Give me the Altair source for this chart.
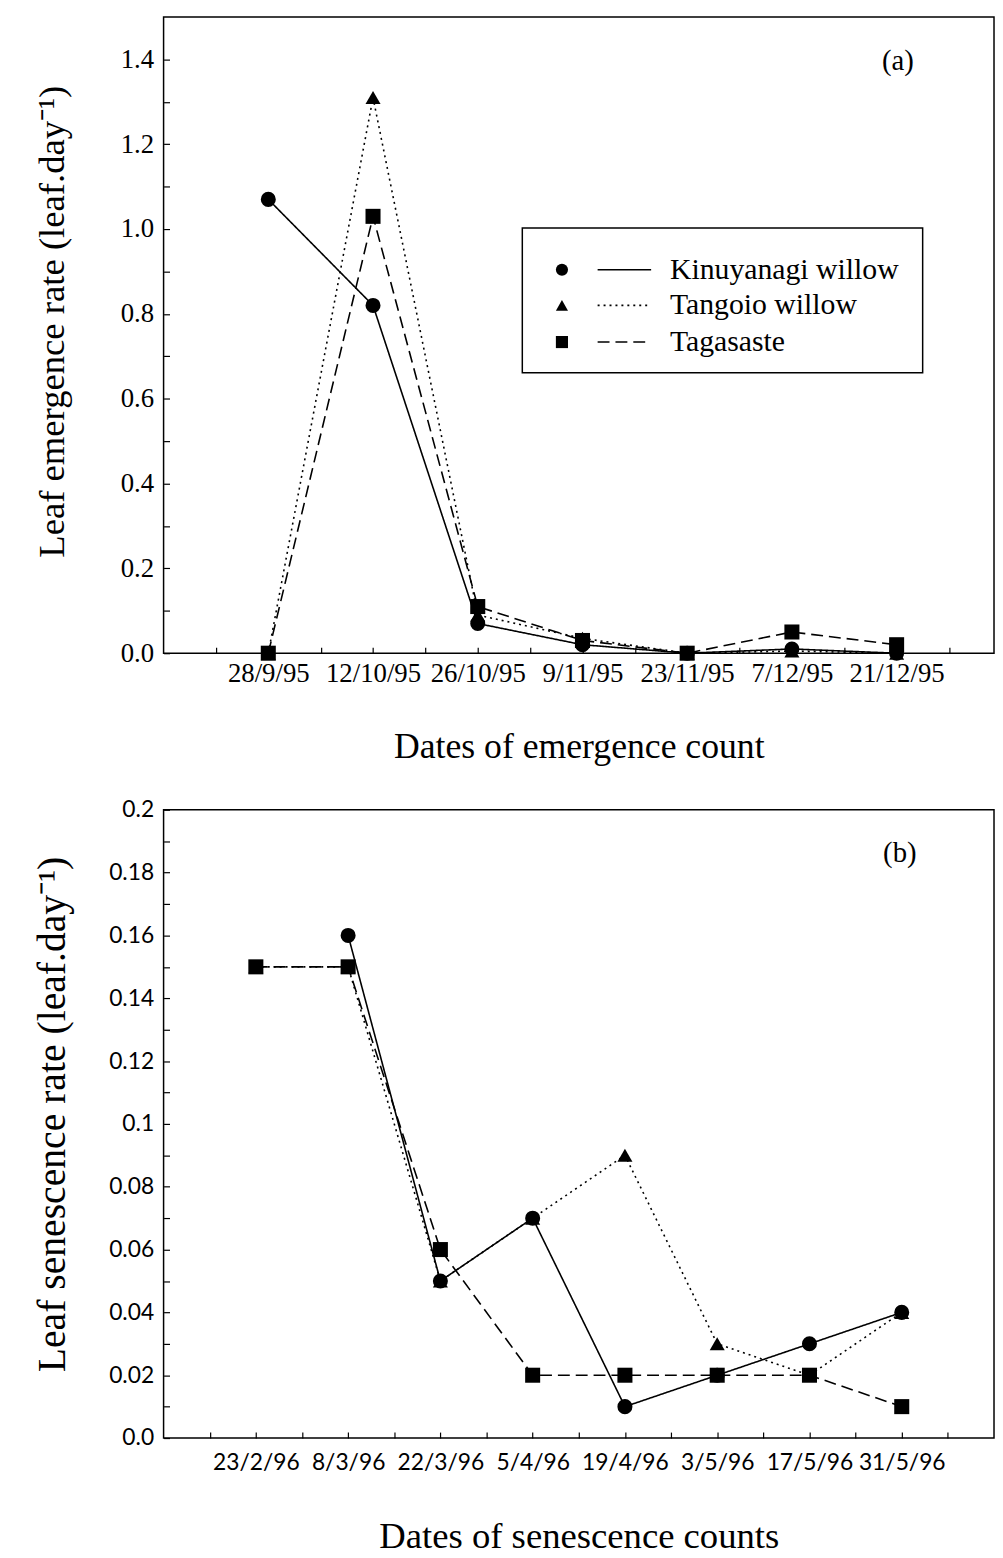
import json
import altair as alt
import pandas as pd

# ---------------- data ----------------
series_names = ["Kinuyanagi willow", "Tangoio willow", "Tagasaste"]

dates_a = ["28/9/95", "12/10/95", "26/10/95", "9/11/95", "23/11/95", "7/12/95", "21/12/95"]
kin_a = [1.07, 0.82, 0.07, 0.02, 0.0, 0.01, 0.0]
tan_a = [0.0, 1.31, 0.09, 0.035, 0.0, 0.005, 0.0]
tag_a = [0.0, 1.03, 0.11, 0.03, 0.0, 0.05, 0.02]

dates_b = ["23/2/96", "8/3/96", "22/3/96", "5/4/96", "19/4/96", "3/5/96", "17/5/96", "31/5/96"]
kin_b = [None, 0.16, 0.05, 0.07, 0.01, 0.02, 0.03, 0.04]
tan_b = [0.15, 0.15, 0.05, 0.07, 0.09, 0.03, 0.02, 0.04]
tag_b = [0.15, 0.15, 0.06, 0.02, 0.02, 0.02, 0.02, 0.01]

yticks_a = [round(k * 0.1, 1) for k in range(0, 15)]
yticks_b = [round(k * 0.01, 2) for k in range(0, 21)]

# ---------------- style ----------------
shapes = ["circle", "triangle-up", "square"]
dashes = [[1, 0], [2, 4], [12, 6]]
shape_scale = alt.Scale(domain=series_names, range=shapes)
dash_scale = alt.Scale(domain=series_names, range=dashes)

SERIF = "Liberation Serif"
SANS = "Lato"
W = 838
HA = 642
HB = 634


def long_df(vals_list):
    rows = []
    for name, vals in zip(series_names, vals_list):
        for i, v in enumerate(vals):
            if v is not None:
                rows.append({"idx": i, "value": v, "series": name})
    return pd.DataFrame(rows)


def panel(df, dates, xmax, ymax, yvals, ylabel_expr, ytitle, xtitle,
          tick_font, tick_size, h, tag, tag_xy, xlab_pad, xtitle_pad,
          xtitle_size, ytitle_size, ytitle_dy, legend=False):
    n = len(dates)
    xvals = [k / 2 for k in range(-1, 2 * n)]
    label_expr = (f"(datum.value % 1 == 0 && datum.value >= 0 && datum.value < {n}) "
                  f"? {json.dumps(dates)}[datum.value] : ''")
    x = alt.X("idx:Q",
              scale=alt.Scale(domain=[-1, xmax], nice=False, zero=False),
              axis=alt.Axis(values=xvals, labelExpr=label_expr, title=xtitle,
                            grid=False, domain=False, tickSize=6, offset=-6,
                            tickColor="black", tickWidth=1.2,
                            labelFont=tick_font, labelFontSize=tick_size,
                            labelColor="black", labelPadding=xlab_pad,
                            labelOverlap=False, labelFlush=False,
                            titleFont=SERIF, titleFontSize=xtitle_size,
                            titleFontWeight="normal", titleColor="black",
                            titlePadding=xtitle_pad))
    y = alt.Y("value:Q",
              scale=alt.Scale(domain=[0, ymax], nice=False, zero=True),
              axis=alt.Axis(values=yvals, labelExpr=ylabel_expr, title=ytitle,
                            grid=False, domain=False, tickSize=6, offset=-6,
                            tickColor="black", tickWidth=1.2,
                            labelFont=tick_font, labelFontSize=tick_size,
                            labelColor="black", labelPadding=10,
                            labelOverlap=False, labelFlush=False,
                            titleFont=SERIF, titleFontSize=ytitle_size,
                            titleFontWeight="normal", titleColor="black",
                            titleX=-118, titleY=h / 2 + ytitle_dy, titleAngle=-90,
                            titleAlign="center", titleBaseline="middle"))
    base = alt.Chart(df)
    lines = base.mark_line(color="black", strokeWidth=1.6).encode(
        x=x, y=y,
        strokeDash=alt.StrokeDash("series:N", scale=dash_scale, legend=None),
        order="idx:Q")
    pts = base.mark_point(filled=True, color="black", size=230, opacity=1).encode(
        x=x, y=y,
        shape=alt.Shape("series:N", scale=shape_scale, legend=None))
    tag_df = pd.DataFrame({"t": [tag]})
    tag_txt = alt.Chart(tag_df).mark_text(font=SERIF, fontSize=29, color="black",
                                          align="center", baseline="middle").encode(
        text="t:N", x=alt.value(tag_xy[0]), y=alt.value(tag_xy[1]))
    layers = [lines, pts, tag_txt]
    if legend:
        leg_df = pd.DataFrame({"series": series_names, "ly": [255, 291, 328]})
        box = alt.Chart(pd.DataFrame({"a": [0]})).mark_rect(
            fill="white", stroke="black", strokeWidth=1.5).encode(
            x=alt.value(362), x2=alt.value(766), y=alt.value(213), y2=alt.value(359))
        ly = alt.Y("ly:Q", scale=None, axis=None)
        lpts = alt.Chart(leg_df).mark_point(filled=True, color="black", size=150,
                                            opacity=1).encode(
            x=alt.value(402), y=ly,
            shape=alt.Shape("series:N", scale=shape_scale, legend=None))
        lrules = alt.Chart(leg_df).mark_rule(color="black", strokeWidth=1.6).encode(
            x=alt.value(438), x2=alt.value(492), y=ly,
            strokeDash=alt.StrokeDash("series:N", scale=dash_scale, legend=None))
        ltxt = alt.Chart(leg_df).mark_text(font=SERIF, fontSize=30, color="black",
                                           align="left", baseline="middle").encode(
            x=alt.value(511), y=ly, text="series:N")
        layers += [box, lpts, lrules, ltxt]
    return alt.layer(*layers).properties(width=W, height=h)


expr_a = "round(datum.value*10) % 2 == 0 ? format(datum.value, '.1f') : ''"
expr_b = ("round(datum.value*100) % 2 != 0 ? '' : "
          "(datum.value == 0 ? '0.0' : format(datum.value, '~g'))")

pa = panel(long_df([kin_a, tan_a, tag_a]), dates_a, 6.93, 1.5, yticks_a, expr_a,
           "Leaf emergence rate (leaf.day\u207b\u00b9)", "Dates of emergence count",
           SERIF, 27, HA, "(a)", (741, 44), xlab_pad=8, xtitle_pad=43,
           xtitle_size=36, ytitle_size=37, ytitle_dy=-14, legend=True)
pb = panel(long_df([kin_b, tan_b, tag_b]), dates_b, 8, 0.2, yticks_b, expr_b,
           "Leaf senescence rate (leaf.day\u207b\u00b9)", "Dates of senescence counts",
           SANS, 23, HB, "(b)", (743, 44), xlab_pad=14, xtitle_pad=44,
           xtitle_size=37, ytitle_size=40, ytitle_dy=-10)

chart = alt.vconcat(pa, pb, spacing=158, bounds="flush").properties(
    padding={"left": 24, "top": 1, "right": 0, "bottom": 0},
    background="white"
).configure_view(stroke="black", strokeWidth=1.5)

chart.save("out.html", embed_options={"renderer": "svg", "actions": False})
